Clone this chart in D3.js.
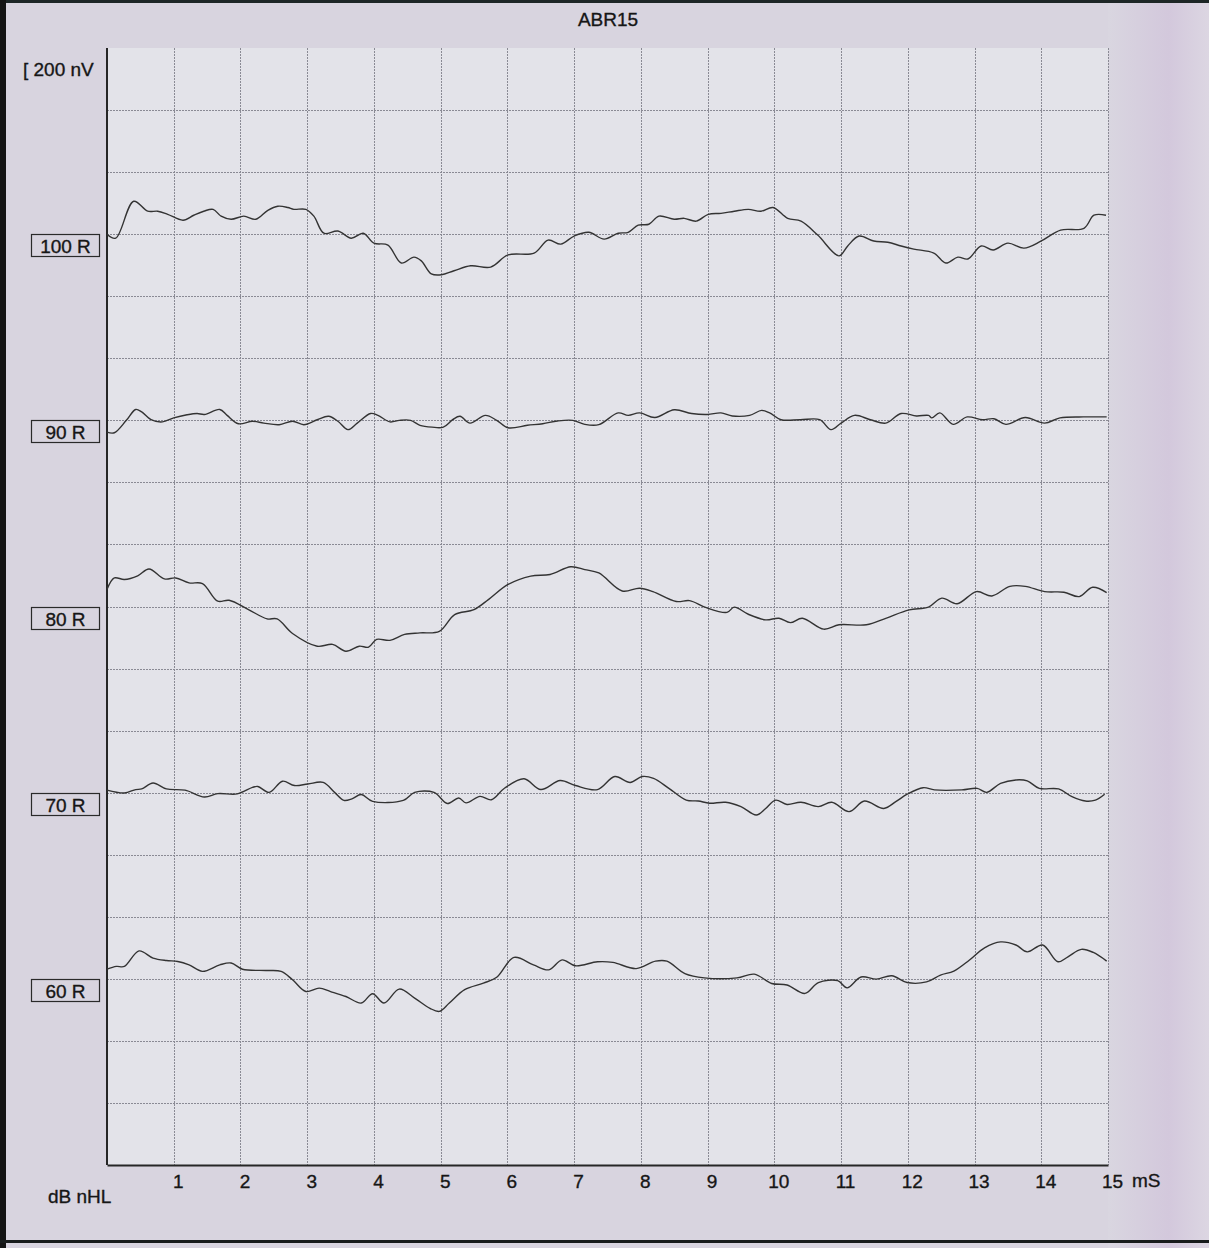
<!DOCTYPE html>
<html><head><meta charset="utf-8">
<script src="https://cdn.jsdelivr.net/npm/d3@7"></script>
<style>body{margin:0;background:#d7d3de;} svg{display:block}</style>
</head><body><svg id="c" width="1209" height="1248"></svg>
<script>
const titleText = "ABR15";
const scaleText = "[ 200 nV";
const xUnit = "mS";
const yUnit = "dB nHL";
const levels = ["100 R", "90 R", "80 R", "70 R", "60 R"];
// baseline of each trace in nV (one grid division = 200 nV)
const baselines = [3000, 2400, 1800, 1200, 600];
const xTicks = [1,2,3,4,5,6,7,8,9,10,11,12,13,14,15];

// [time ms, amplitude nV]
const trace100 = [[0,0],[0.13,-13],[0.40,106],[0.61,74],[0.76,74],[0.91,64],[1.14,45],[1.30,61],[1.45,74],[1.59,80],[1.71,58],[1.86,48],[2.05,58],[2.23,48],[2.41,77],[2.56,90],[2.71,86],[2.80,80],[2.98,80],[3.10,58],[3.25,3],[3.46,10],[3.66,-13],[3.84,3],[4.00,-29],[4.21,-35],[4.41,-93],[4.60,-74],[4.71,-86],[4.86,-128],[5.01,-131],[5.20,-118],[5.45,-102],[5.75,-106],[6.01,-67],[6.40,-61],[6.61,-19],[6.80,-32],[7.00,-6],[7.22,6],[7.45,-16],[7.66,3],[7.81,6],[7.96,29],[8.12,32],[8.27,58],[8.50,48],[8.65,51],[8.83,42],[9.01,64],[9.20,67],[9.40,74],[9.61,80],[9.80,74],[9.98,86],[10.20,51],[10.40,42],[10.65,-3],[10.97,-70],[11.10,-38],[11.27,-6],[11.49,-22],[11.70,-26],[11.90,-38],[12.09,-48],[12.39,-61],[12.57,-93],[12.75,-74],[12.90,-80],[13.10,-38],[13.28,-51],[13.50,-29],[13.74,-45],[14.00,-22],[14.29,13],[14.64,19],[14.79,61],[14.97,61]];
const trace90 = [[0,-38],[0.11,-40],[0.29,0],[0.43,35],[0.52,27],[0.66,2],[0.83,-5],[1.00,8],[1.20,18],[1.35,22],[1.46,19],[1.69,35],[1.80,16],[1.97,-11],[2.18,-3],[2.35,-9],[2.58,-14],[2.78,-3],[2.95,-14],[3.15,2],[3.32,13],[3.46,-3],[3.61,-30],[3.75,-9],[3.95,22],[4.06,16],[4.24,-5],[4.38,0],[4.55,0],[4.69,-16],[4.87,-22],[5.04,-22],[5.18,2],[5.29,13],[5.44,-9],[5.67,16],[5.84,0],[6.01,-24],[6.30,-16],[6.53,-11],[6.75,-2],[6.98,0],[7.16,-13],[7.37,-14],[7.66,24],[7.81,16],[7.98,24],[8.21,9],[8.50,34],[8.76,22],[9.00,19],[9.20,24],[9.37,14],[9.63,16],[9.81,32],[9.93,24],[10.10,2],[10.39,2],[10.68,2],[10.85,-30],[11.00,-9],[11.20,16],[11.44,2],[11.67,-9],[11.90,22],[12.13,14],[12.31,16],[12.36,8],[12.48,24],[12.68,-13],[12.89,11],[13.12,2],[13.29,5],[13.47,-13],[13.76,9],[14.05,-9],[14.28,8],[14.63,11],[14.98,11]];
const trace80 = [[0,55],[0.11,92],[0.26,87],[0.46,99],[0.63,121],[0.86,89],[1.03,92],[1.23,76],[1.43,74],[1.66,17],[1.83,20],[2.12,-10],[2.40,-40],[2.55,-40],[2.78,-87],[3.15,-128],[3.38,-122],[3.58,-144],[3.78,-128],[3.92,-131],[4.04,-106],[4.24,-109],[4.46,-90],[4.69,-85],[4.98,-80],[5.21,-26],[5.50,-10],[5.72,23],[6.01,71],[6.35,98],[6.64,103],[6.95,128],[7.16,119],[7.37,108],[7.72,50],[7.98,59],[8.18,48],[8.53,16],[8.73,19],[8.97,-3],[9.29,-19],[9.40,-2],[9.61,-25],[9.87,-43],[10.07,-38],[10.24,-52],[10.42,-38],[10.74,-73],[10.97,-59],[11.38,-59],[11.67,-38],[12.02,-11],[12.31,-2],[12.51,27],[12.74,9],[13.03,48],[13.26,34],[13.53,65],[13.76,65],[14.05,48],[14.34,46],[14.57,32],[14.77,62],[14.98,45]];
const trace70 = [[0,8],[0.26,-1],[0.43,10],[0.52,12],[0.69,31],[0.89,12],[1.17,8],[1.46,-14],[1.66,-3],[1.95,-4],[2.18,17],[2.26,20],[2.43,1],[2.63,37],[2.81,23],[3.01,28],[3.24,33],[3.41,1],[3.55,-25],[3.67,-20],[3.81,-6],[3.98,-28],[4.44,-25],[4.61,1],[4.90,1],[5.10,-35],[5.27,-17],[5.38,-33],[5.59,-12],[5.76,-23],[5.96,15],[6.25,45],[6.50,10],[6.79,39],[7.02,23],[7.35,10],[7.61,52],[7.84,33],[8.02,52],[8.19,46],[8.42,14],[8.68,-24],[8.86,-27],[9.03,-34],[9.27,-31],[9.50,-45],[9.73,-72],[9.87,-51],[10.02,-24],[10.19,-38],[10.40,-31],[10.66,-45],[10.86,-31],[11.12,-61],[11.35,-27],[11.64,-51],[11.82,-29],[11.99,-5],[12.23,16],[12.40,9],[12.81,9],[13.04,14],[13.18,1],[13.39,30],[13.62,41],[13.79,38],[13.97,14],[14.26,12],[14.46,-13],[14.66,-27],[14.81,-24],[14.95,-5]];
const trace60 = [[0,31],[0.14,40],[0.26,40],[0.48,90],[0.69,67],[0.89,59],[1.06,56],[1.23,45],[1.43,24],[1.69,45],[1.86,51],[2.03,31],[2.38,27],[2.61,24],[2.78,-3],[2.98,-41],[3.18,-30],[3.35,-41],[3.58,-57],[3.81,-78],[3.98,-48],[4.15,-78],[4.38,-33],[4.61,-62],[4.84,-95],[4.98,-105],[5.13,-78],[5.36,-35],[5.64,-14],[5.84,5],[6.10,69],[6.39,45],[6.62,29],[6.82,61],[7.02,42],[7.35,55],[7.58,53],[7.93,33],[8.22,57],[8.39,57],[8.66,17],[8.95,3],[9.44,3],[9.70,15],[9.96,-15],[10.19,-20],[10.46,-47],[10.66,-12],[10.95,-6],[11.09,-29],[11.30,6],[11.53,-1],[11.76,10],[11.99,-12],[12.28,-10],[12.49,12],[12.69,25],[12.92,60],[13.15,100],[13.39,119],[13.62,109],[13.79,87],[14.02,109],[14.25,55],[14.40,71],[14.60,95],[14.78,85],[14.98,57]];
const traces = [trace100, trace90, trace80, trace70, trace60];

const svg = d3.select("#c");
const font = "'Liberation Sans', Arial, sans-serif";
const ink = "#161616";
const W = 1209, H = 1248;
const pLeft = 107, pRight = 1108, pTop = 48, pBottom = 1165;

const x = d3.scaleLinear().domain([0, 15]).range([pLeft, pRight]);
const y = d3.scaleLinear().domain([0, 3600]).range([pBottom, pTop]);

function txt(sel) {
  return sel.attr("font-family", font).attr("font-size", 19).attr("fill", ink)
    .attr("stroke", ink).attr("stroke-width", 0.35);
}

// page
svg.append("rect").attr("width", W).attr("height", H).attr("fill", "#d8d4df");
const defs = svg.append("defs");
const g1 = defs.append("linearGradient").attr("id", "rm").attr("x1", 0).attr("x2", 1);
g1.append("stop").attr("offset", "0%").attr("stop-color", "#d9d6e0");
g1.append("stop").attr("offset", "60%").attr("stop-color", "#d3c8dc");
g1.append("stop").attr("offset", "100%").attr("stop-color", "#dcd6e2");
svg.append("rect").attr("x", pRight).attr("y", 0).attr("width", W - pRight).attr("height", H).attr("fill", "url(#rm)");

// plot area
svg.append("rect").attr("x", pLeft).attr("y", pTop).attr("width", pRight - pLeft).attr("height", pBottom - pTop)
  .attr("fill", "#e3e3e9");

// grid
const grid = svg.append("g").attr("stroke", "#8a8a94").attr("stroke-width", 1).attr("stroke-dasharray", "2,1");
grid.selectAll("line.v").data(xTicks).join("line").attr("class", "v")
  .attr("x1", d => Math.round(x(d)) + 0.5).attr("x2", d => Math.round(x(d)) + 0.5)
  .attr("y1", pTop).attr("y2", pBottom);
grid.selectAll("line.h").data(d3.range(200, 3600, 200)).join("line").attr("class", "h")
  .attr("x1", pLeft).attr("x2", pRight)
  .attr("y1", d => Math.round(y(d)) + 0.5).attr("y2", d => Math.round(y(d)) + 0.5);

// axes
svg.append("line").attr("x1", pLeft).attr("x2", pLeft).attr("y1", y(3600)).attr("y2", y(0))
  .attr("stroke", "#262626").attr("stroke-width", 2);
const xAxis = d3.axisBottom(x).tickValues(xTicks).tickSize(0).tickPadding(0);
const ax = svg.append("g").attr("transform", `translate(0,${pBottom})`).call(xAxis);
ax.select(".domain").attr("stroke", "#262626").attr("stroke-width", 2);
txt(ax.selectAll(".tick text")).attr("dy", 0).attr("y", 23).attr("dx", 4);
txt(svg.append("text").attr("x", x(15) + 24).attr("y", pBottom + 22)).text(xUnit);

// texts
txt(svg.append("text").attr("x", 608).attr("y", 26).attr("text-anchor", "middle")).text(titleText);
txt(svg.append("text").attr("x", 23).attr("y", 76)).text(scaleText);
txt(svg.append("text").attr("x", 48).attr("y", 1203)).text(yUnit);

// level labels
const lab = svg.append("g");
levels.forEach((l, i) => {
  const yy = Math.round(y(baselines[i])) + 0.5;
  lab.append("rect").attr("x", 31.5).attr("y", yy).attr("width", 68).attr("height", 22)
    .attr("fill", "none").attr("stroke", "#2a2a2a").attr("stroke-width", 1.2);
  txt(lab.append("text").attr("x", 65.5).attr("y", yy + 18).attr("text-anchor", "middle")).text(l);
});

// traces
const line = d3.line().curve(d3.curveCatmullRom.alpha(0.5));
traces.forEach((tr, i) => {
  svg.append("path")
    .attr("d", line(tr.map(p => [x(p[0]), y(baselines[i] + p[1])])))
    .attr("fill", "none").attr("stroke", "#333333").attr("stroke-width", 1.4)
    .attr("stroke-linejoin", "round");
});

// frame
svg.append("rect").attr("x", 0).attr("y", 0).attr("width", W).attr("height", 3).attr("fill", "#1d2626");
svg.append("rect").attr("x", 0).attr("y", 0).attr("width", 6).attr("height", H).attr("fill", "#141414");
svg.append("rect").attr("x", 0).attr("y", 1240).attr("width", W).attr("height", 3).attr("fill", "#181c1c");
</script></body></html>
